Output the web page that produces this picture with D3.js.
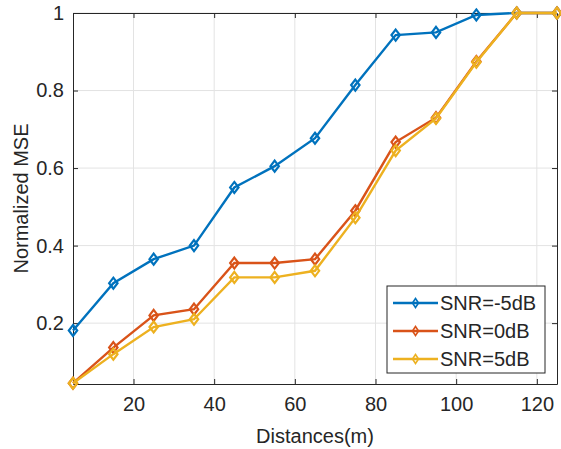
<!DOCTYPE html>
<html>
<head>
<meta charset="utf-8">
<script src="https://cdn.jsdelivr.net/npm/d3@7"></script>
<style>
  body { margin: 0; background: #fff; }
  svg text { font-family: "Liberation Sans", Arial, sans-serif; fill: #262626; }
</style>
</head>
<body>
<div id="body"></div>
<script>
// distances (m)
var distances = [5, 15, 25, 35, 45, 55, 65, 75, 85, 95, 105, 115, 125];
var snrMinus5 = [0.181, 0.303, 0.365, 0.400, 0.550, 0.605, 0.677, 0.814, 0.943, 0.950, 0.995, 1.0, 1.0];
var snr0 = [0.045, 0.137, 0.220, 0.236, 0.355, 0.355, 0.365, 0.490, 0.667, 0.730, 0.875, 1.0, 1.0];
var snr5 = [0.045, 0.120, 0.190, 0.210, 0.318, 0.318, 0.335, 0.472, 0.645, 0.728, 0.873, 1.0, 1.0];
var seriesNames = ["SNR=-5dB", "SNR=0dB", "SNR=5dB"];
var xTicks = [20, 40, 60, 80, 100, 120];
var yTicks = [0.2, 0.4, 0.6, 0.8, 1];

function RenderChart() {
    var width = 561, height = 449;
    var margin = { left: 73, right: 4, top: 13, bottom: 65 };
    var colors = ["#0072BD", "#D95319", "#EDB120"];
    var allSeries = [snrMinus5, snr0, snr5];

    var x = d3.scaleLinear().domain([5, 125]).range([margin.left, width - margin.right]);
    var y = d3.scaleLinear().domain([0.043, 1]).range([height - margin.bottom, margin.top]);

    var svg = d3.select("#body").append("svg")
        .attr("width", width)
        .attr("height", height);

    // grid
    svg.append("g").selectAll("line.gx")
        .data(xTicks).enter().append("line")
        .attr("x1", function (d) { return x(d); })
        .attr("x2", function (d) { return x(d); })
        .attr("y1", y.range()[0]).attr("y2", y.range()[1])
        .attr("stroke", "#e3e3e3").attr("stroke-width", 1);
    svg.append("g").selectAll("line.gy")
        .data(yTicks).enter().append("line")
        .attr("y1", function (d) { return y(d); })
        .attr("y2", function (d) { return y(d); })
        .attr("x1", x.range()[0]).attr("x2", x.range()[1])
        .attr("stroke", "#e3e3e3").attr("stroke-width", 1);

    // axes (ticks inward, box on)
    var fmt = function (d) { return d3.format("~g")(d); };
    var xAxis = svg.append("g")
        .attr("transform", "translate(0," + y.range()[0] + ")")
        .call(d3.axisBottom(x).tickValues(xTicks).tickSizeInner(-5).tickSizeOuter(0).tickPadding(13).tickFormat(fmt));
    var xTop = svg.append("g")
        .attr("transform", "translate(0," + y.range()[1] + ")")
        .call(d3.axisTop(x).tickValues(xTicks).tickSizeInner(-5).tickSizeOuter(0).tickFormat(""));
    var yAxis = svg.append("g")
        .attr("transform", "translate(" + x.range()[0] + ",0)")
        .call(d3.axisLeft(y).tickValues(yTicks).tickSizeInner(-5).tickSizeOuter(0).tickPadding(9).tickFormat(fmt));
    var yRight = svg.append("g")
        .attr("transform", "translate(" + x.range()[1] + ",0)")
        .call(d3.axisRight(y).tickValues(yTicks).tickSizeInner(-5).tickSizeOuter(0).tickFormat(""));

    [xAxis, xTop, yAxis, yRight].forEach(function (a) {
        a.selectAll("path").attr("stroke", "#262626").attr("stroke-width", 1);
        a.selectAll("line").attr("stroke", "#262626");
        a.selectAll("text").style("font-size", "20px").attr("fill", "#262626")
            .style("font-family", "'Liberation Sans', Arial, sans-serif");
    });

    // axis labels
    svg.append("text")
        .attr("x", (x.range()[0] + x.range()[1]) / 2)
        .attr("y", 443)
        .attr("text-anchor", "middle")
        .style("font-size", "20px")
        .text("Distances(m)");
    svg.append("text")
        .attr("transform", "translate(28," + ((y.range()[0] + y.range()[1]) / 2) + ") rotate(-90)")
        .attr("text-anchor", "middle")
        .style("font-size", "20px")
        .text("Normalized MSE");

    var line = d3.line()
        .x(function (d, i) { return x(distances[i]); })
        .y(function (d) { return y(d); });

    var diamond = "M0,-5.5 L4.2,0 L0,5.5 L-4.2,0 Z";

    allSeries.forEach(function (s, k) {
        var g = svg.append("g");
        g.append("path")
            .attr("d", line(s))
            .attr("fill", "none")
            .attr("stroke", colors[k])
            .attr("stroke-width", 2.4);
        g.selectAll("path.m")
            .data(s).enter().append("path")
            .attr("class", "m")
            .attr("d", diamond)
            .attr("transform", function (d, i) { return "translate(" + x(distances[i]) + "," + y(d) + ")"; })
            .attr("fill", "none")
            .attr("stroke", colors[k])
            .attr("stroke-width", 2.2);
    });

    // legend
    var lg = svg.append("g").attr("transform", "translate(387,286)");
    lg.append("rect")
        .attr("width", 158).attr("height", 87)
        .attr("fill", "#fff").attr("stroke", "#262626").attr("stroke-width", 1);
    seriesNames.forEach(function (name, k) {
        var yy = 17 + k * 28;
        lg.append("line")
            .attr("x1", 6).attr("x2", 51).attr("y1", yy).attr("y2", yy)
            .attr("stroke", colors[k]).attr("stroke-width", 2.4);
        lg.append("path")
            .attr("d", "M0,-4.5 L3,0 L0,4.5 L-3,0 Z")
            .attr("transform", "translate(28.5," + yy + ")")
            .attr("fill", "none").attr("stroke", colors[k]).attr("stroke-width", 1.6);
        lg.append("text")
            .attr("x", 53).attr("y", yy + 7)
            .style("font-size", "20px")
            .text(name);
    });
}

RenderChart();
</script>
</body>
</html>
